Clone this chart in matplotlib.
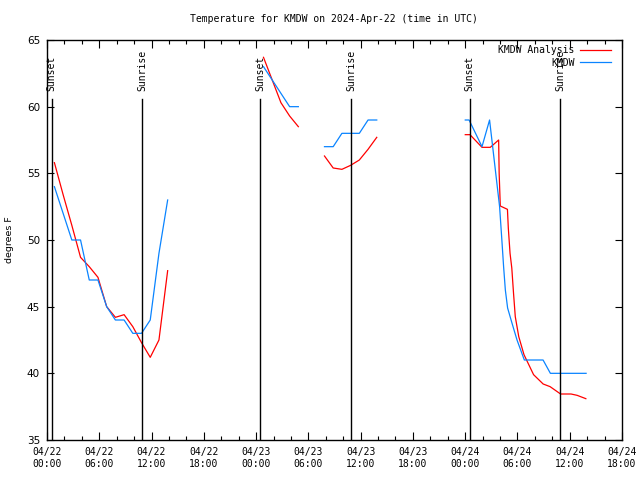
import numpy as np
import matplotlib
matplotlib.use("Agg")
import matplotlib.pyplot as plt

# ---------------- data (hours since 2024-04-22 00:00 UTC) ----------------
nan = np.nan
red_hours = [0.85, 1.85, 2.85, 3.85, 4.85, 5.85, 6.85, 7.85, 8.85, 9.85, 10.85, 11.85, 12.85, 13.85, nan,
             24.85, 25.85, 26.85, 27.85, 28.85, nan,
             31.85, 32.85, 33.85, 34.85, 35.85, 36.85, 37.85, nan,
             48.01, 48.55, 49.93, 50.88, 51.84, 51.9, 52.03, 52.85, 52.95, 53.15, 53.35,
             53.55, 53.75, 54.15, 54.75, 55.85, 56.95, 57.75, 58.95, 60.15, 60.85, 61.85]
red_temps = [55.8, 53.4, 51.1, 48.7, 48.0, 47.2, 45.0, 44.2, 44.4, 43.5, 42.3, 41.2, 42.5, 47.7, nan,
             63.7, 62.0, 60.3, 59.3, 58.5, nan,
             56.3, 55.4, 55.3, 55.6, 56.0, 56.8, 57.7, nan,
             57.9, 57.9, 56.95, 56.95, 57.5, 55.0, 52.55, 52.3, 50.9, 49.0, 47.9,
             46.0, 44.25, 42.75, 41.4, 39.9, 39.2, 39.0, 38.45, 38.45, 38.35, 38.1]

blue_hours = [0.85, 1.85, 2.85, 3.85, 4.85, 5.85, 6.85, 7.85, 8.85, 9.85, 10.85, 11.85, 12.85, 13.85, nan,
              24.85, 25.85, 26.85, 27.85, 28.85, nan,
              31.85, 32.85, 33.85, 34.85, 35.85, 36.85, 37.85, nan,
              48.01, 48.45, 49.93, 50.8, 51.95, 52.22, 52.41, 52.61, 52.87, 53.38,
              53.95, 54.79, 56.94, 57.78, 61.88]
blue_temps = [54, 52, 50, 50, 47, 47, 45, 44, 44, 43, 43, 44, 49, 53, nan,
              63, 62, 61, 60, 60, nan,
              57, 57, 58, 58, 58, 59, 59, nan,
              59, 59, 57, 59, 52.5, 49.9, 48.0, 46.25, 44.9, 43.75,
              42.5, 41.0, 41.0, 40.0, 40.0]

sun_hours = [0.55, 10.95, 24.5, 34.95, 48.5, 58.9]
sun_labels = ["Sunset", "Sunrise", "Sunset", "Sunrise", "Sunset", "Sunrise"]

xtick_hours = list(range(0, 67, 6))
xtick_labels = ["04/%02d\n%02d:00" % (22 + h // 24, h % 24) for h in xtick_hours]
ytick_vals = [35, 40, 45, 50, 55, 60, 65]

title = "Temperature for KMDW on 2024-Apr-22 (time in UTC)"
mono = "DejaVu Sans Mono"

# ---------------- figure ----------------
fig = plt.figure(figsize=(6.4, 4.8), dpi=100)
ax = fig.add_axes([47 / 640, 1 - 440 / 480, 575 / 640, 400 / 480])

ax.plot(red_hours, red_temps, color="#ff0000", lw=0.9, label="KMDW Analysis")
ax.plot(blue_hours, blue_temps, color="#0a84ff", lw=0.9, label="KMDW")

for h, lab in zip(sun_hours, sun_labels):
    ax.axvline(h, ymin=0, ymax=0.853, color="black", lw=1.0)
    ax.text(h, 61.15, lab, rotation=90, ha="center", va="bottom",
            family=mono, fontsize=7)

ax.set_xlim(0, 66)
ax.set_ylim(35, 65)
ax.set_xticks(xtick_hours)
ax.set_xticklabels(xtick_labels, family=mono, fontsize=7)
ax.set_xticks(range(0, 67, 2), minor=True)
ax.set_yticks(ytick_vals)
ax.set_yticklabels([str(v) for v in ytick_vals], fontsize=7.5)
ax.tick_params(axis="both", which="both", direction="in", top=True, right=True,
               width=0.8, color="black")
ax.tick_params(axis="x", which="major", length=6, pad=5)
ax.tick_params(axis="x", which="minor", length=3)
ax.tick_params(axis="y", which="major", length=5, pad=5)
for s in ax.spines.values():
    s.set_linewidth(1.0)
    s.set_color("black")

leg = ax.legend(loc="upper right", bbox_to_anchor=(0.98, 0.987), frameon=False,
                markerfirst=False, handlelength=3.1, handletextpad=0.6,
                labelspacing=0.25, borderaxespad=0, borderpad=0,
                prop={"family": mono, "size": 7})

fig.text(334 / 640, 1 - 19 / 480, title, ha="center", va="center", family=mono, fontsize=7)
fig.text(10 / 640, 0.5, "degrees F", rotation=90, ha="center", va="center", fontsize=6.8)

fig.savefig("out.png", dpi=100)
